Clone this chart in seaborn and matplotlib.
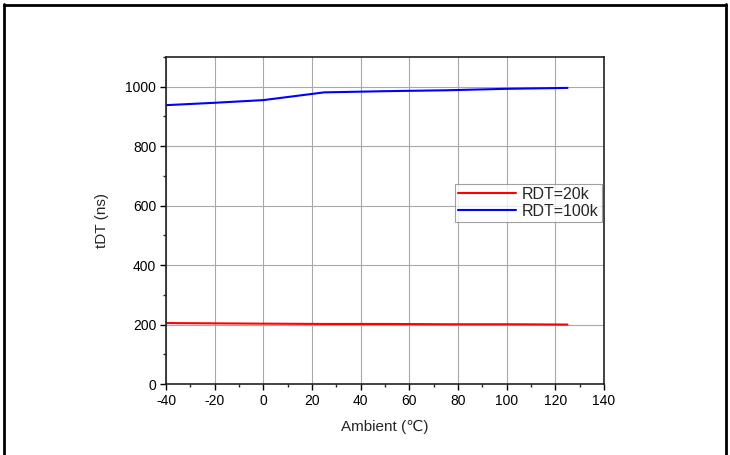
import matplotlib
matplotlib.use("Agg")
import matplotlib.pyplot as plt
import seaborn as sns
import pandas as pd
from matplotlib.ticker import MultipleLocator

# values
ambient = [-40, -20, 0, 25, 50, 75, 100, 125]
tdt_20k = [205, 204, 203, 202, 202, 201, 201, 200]
tdt_100k = [938, 946, 955, 981, 985, 988, 993, 996]
series_names = ["RDT=20k", "RDT=100k"]
series_colors = ["#ff0000", "#0000ff"]

df = pd.concat([
    pd.DataFrame({"Ambient": ambient, "tDT": tdt_20k, "series": series_names[0]}),
    pd.DataFrame({"Ambient": ambient, "tDT": tdt_100k, "series": series_names[1]}),
])

sns.set_style("ticks")
plt.rcParams["font.family"] = ["Liberation Sans", "DejaVu Sans"]
plt.rcParams["axes.unicode_minus"] = False

fig = plt.figure(figsize=(7.3, 4.55), dpi=100)
ax = fig.add_axes([166 / 730, 1 - 384 / 455, 438 / 730, 327 / 455])

sns.lineplot(data=df, x="Ambient", y="tDT", hue="series",
             palette=dict(zip(series_names, series_colors)),
             linewidth=1.5, ax=ax)

ax.set_xlim(-40, 140)
ax.set_ylim(0, 1100)
ax.xaxis.set_major_locator(MultipleLocator(20))
ax.xaxis.set_minor_locator(MultipleLocator(10))
ax.yaxis.set_major_locator(MultipleLocator(200))
ax.yaxis.set_minor_locator(MultipleLocator(100))
ax.grid(True, which="major", color="#a8a8a8", linewidth=0.8)
ax.tick_params(which="major", length=4, width=1, labelsize=10, colors="black", pad=3)
ax.tick_params(which="minor", length=2.5, width=1)
for s in ax.spines.values():
    s.set_linewidth(1.2)
    s.set_color("#222222")

ax.set_xlabel("Ambient (\u2103)", fontsize=11, labelpad=9)
ax.set_ylabel("tDT (ns)", fontsize=11, labelpad=12)

leg = ax.legend(loc="upper left", bbox_to_anchor=(0.66, 0.612), fontsize=11.5,
                frameon=True, fancybox=False, edgecolor="#888888",
                handlelength=3.6, borderpad=0.2, labelspacing=0.1,
                handletextpad=0.4, borderaxespad=0)
leg.get_frame().set_linewidth(0.8)

# page frame around the figure as in the datasheet crop
fig.add_artist(plt.Line2D([4 / 730, 4 / 730], [0, 1 - 4 / 455], color="black", lw=2))
fig.add_artist(plt.Line2D([726 / 730, 726 / 730], [0, 1 - 4 / 455], color="black", lw=2))
fig.add_artist(plt.Line2D([4 / 730, 726 / 730], [1 - 5 / 455, 1 - 5 / 455], color="black", lw=2))

fig.savefig("out.png", dpi=100)
